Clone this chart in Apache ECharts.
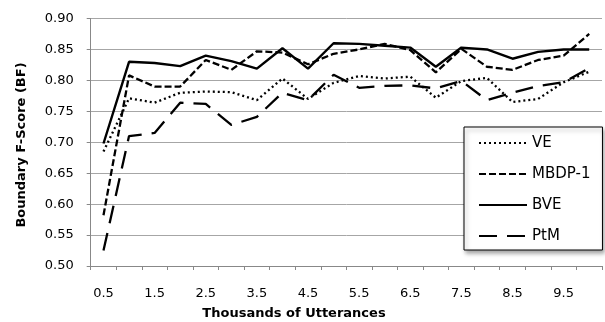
<!DOCTYPE html>
<html>
<head>
<meta charset="utf-8">
<script src="https://cdn.jsdelivr.net/npm/echarts@6/dist/echarts.min.js"></script>
<style>
html,body{margin:0;padding:0;background:#fff;}
#c{width:605px;height:322px;}
</style>
</head>
<body>
<div id="c"></div>
<script>
const categories = ['0.5','1','1.5','2','2.5','3','3.5','4','4.5','5','5.5','6','6.5','7','7.5','8','8.5','9','9.5','10'];
const veValues   = [0.685,0.771,0.764,0.780,0.782,0.781,0.768,0.803,0.770,0.796,0.807,0.803,0.806,0.772,0.799,0.804,0.765,0.770,0.797,0.814];
const mbdpValues = [0.582,0.808,0.790,0.790,0.833,0.817,0.847,0.845,0.826,0.843,0.850,0.859,0.849,0.813,0.851,0.822,0.817,0.833,0.840,0.875];
const bveValues  = [0.698,0.830,0.828,0.823,0.840,0.831,0.819,0.852,0.819,0.860,0.859,0.856,0.853,0.822,0.853,0.850,0.835,0.846,0.850,0.850];
const ptmValues  = [0.525,0.710,0.715,0.764,0.762,0.728,0.741,0.780,0.768,0.809,0.788,0.791,0.792,0.787,0.799,0.768,0.780,0.791,0.797,0.820];
const yTicks = { min: 0.5, max: 0.9, interval: 0.05 };
const xTitle = 'Thousands of Utterances';
const yTitle = 'Boundary F-Score (BF)';

const FONT = 'DejaVu Sans';
const chart = echarts.init(document.getElementById('c'), null, { renderer: 'canvas' });

function mk(name, data, dash, width) {
  return {
    name: name, type: 'line', data: data, symbol: 'none', animation: false,
    lineStyle: { color: '#000', width: width, type: dash, cap: 'butt' },
    itemStyle: { color: '#000' }
  };
}

chart.setOption({
  animation: false,
  backgroundColor: '#fff',
  textStyle: { fontFamily: FONT },
  grid: { left: 90.7, right: 3, top: 18.5, bottom: 56, containLabel: false },
  xAxis: {
    type: 'category', data: categories, boundaryGap: true,
    axisLine: { lineStyle: { color: '#888', width: 1 } },
    axisTick: { show: true, interval: 0, length: 4, lineStyle: { color: '#888' } },
    axisLabel: { interval: 1, margin: 21, color: '#000', fontFamily: FONT, fontSize: 13 },
    splitLine: { show: false }
  },
  yAxis: {
    type: 'value', min: yTicks.min, max: yTicks.max, interval: yTicks.interval,
    axisLine: { show: true, lineStyle: { color: '#888', width: 1 } },
    axisTick: { show: true, length: 4, lineStyle: { color: '#888' } },
    axisLabel: { margin: 17, color: '#000', fontFamily: FONT, fontSize: 13, formatter: v => v.toFixed(2) },
    splitLine: { show: true, lineStyle: { color: '#a6a6a6', width: 1 } }
  },
  legend: {
    orient: 'vertical', left: 464, top: 127,
    data: ['VE', 'MBDP-1', 'BVE', 'PtM'],
    itemWidth: 48, itemHeight: 14, itemGap: 13,
    padding: [7, 12, 5, 14],
    itemStyle: { opacity: 0 },
    backgroundColor: '#fff', borderColor: '#000', borderWidth: 1,
    shadowColor: 'rgba(0,0,0,0.35)', shadowBlur: 4, shadowOffsetX: 2, shadowOffsetY: 3,
    textStyle: { fontFamily: FONT, fontSize: 15, color: '#000', lineHeight: 18 }
  },
  series: [
    mk('VE', veValues, [2, 3], 2.3),
    mk('MBDP-1', mbdpValues, [7, 3], 2.3),
    mk('BVE', bveValues, 'solid', 2.4),
    mk('PtM', ptmValues, [18, 10], 2.3)
  ],
  graphic: [
    { type: 'text', x: 294, y: 314, style: { text: xTitle, font: 'bold 13px "DejaVu Sans"', fill: '#000', textAlign: 'center', textVerticalAlign: 'middle' } },
    { type: 'text', x: 22, y: 145, rotation: Math.PI / 2, style: { text: yTitle, font: 'bold 13px "DejaVu Sans"', fill: '#000', textAlign: 'center', textVerticalAlign: 'middle' } }
  ]
});
</script>
</body>
</html>
